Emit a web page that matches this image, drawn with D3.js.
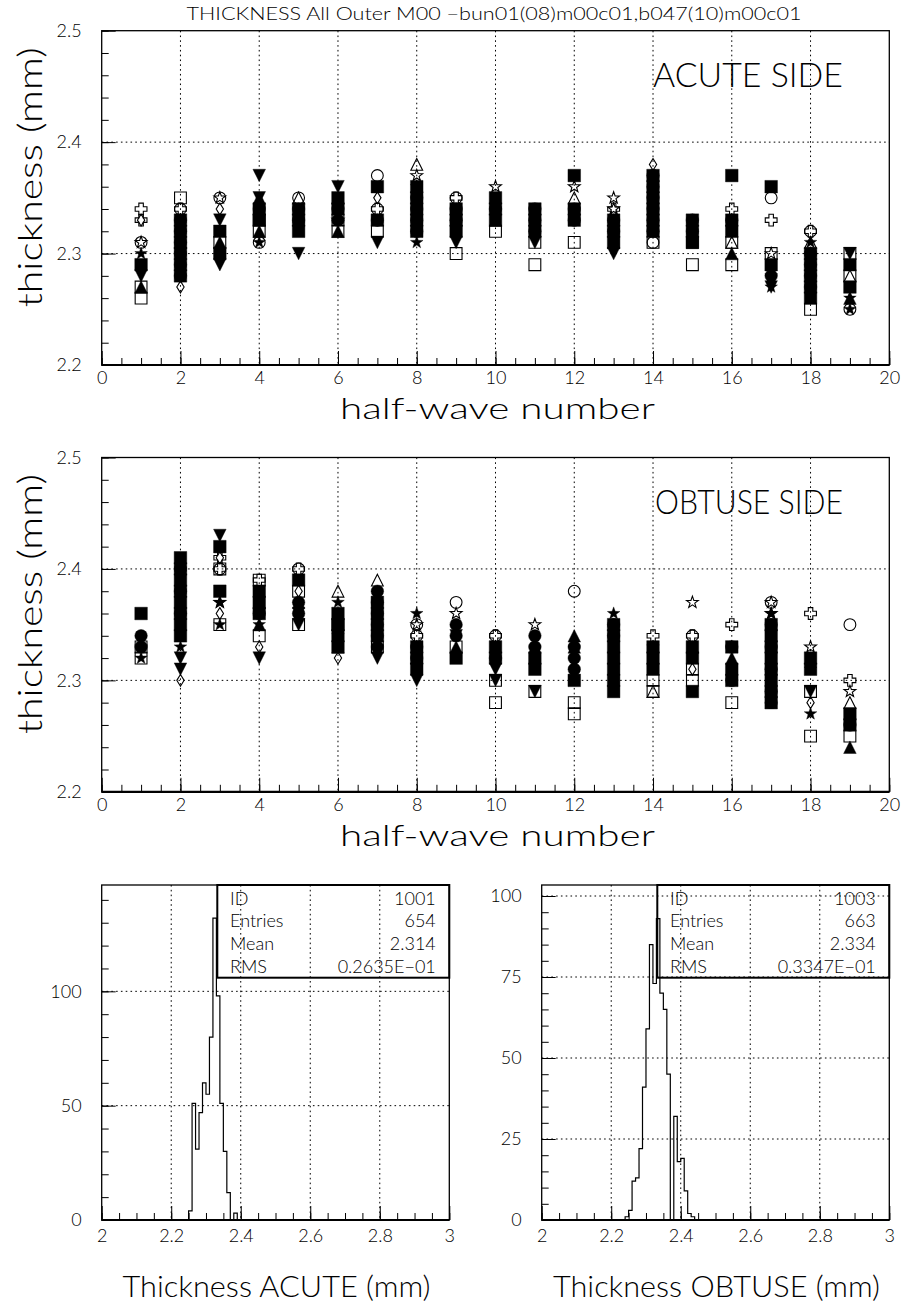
<!DOCTYPE html>
<html><head><meta charset="utf-8">
<script src="https://cdn.jsdelivr.net/npm/d3@7"></script>
<style>
body{margin:0;background:#fff}
text{font-family:Lato,"DejaVu Sans",sans-serif;font-weight:300;fill:#000}
</style>
</head><body>
<svg id="chart" width="905" height="1303" xmlns="http://www.w3.org/2000/svg"></svg>
<script>
// ---------------- DATA ----------------
const pageTitle = "THICKNESS  All Outer M00 \u2212bun01(08)m00c01,b047(10)m00c01";
const halfWaveTicks = [0,2,4,6,8,10,12,14,16,18,20];
const halfWaveGrid = [2,4,6,8,10,12,14,16,18];
const thicknessTicks = [2.2,2.3,2.4,2.5];
const thicknessGrid = [2.3,2.4];
const sideLabels = ["ACUTE SIDE","OBTUSE SIDE"];
const xAxisTitle = "half-wave number";
const yAxisTitle = "thickness (mm)";

// markers: f=filled, o=open; s=square c=circle t=triangle-up v=triangle-down d=diamond x=cross a=star
const acuteByHalfWave = [
 [[2.34,"ox"],[2.33,"ox"],[2.33,"od"],[2.31,"oc"],[2.31,"oa"],[2.30,"fa"],[2.29,"fs"],[2.28,"fv"],[2.27,"ft"],[2.27,"os"],[2.26,"os"]],
 [[2.35,"os"],[2.34,"oc"],[2.34,"ox"],[2.33,"fs"],[2.32,"fs"],[2.31,"fs"],[2.30,"fs"],[2.29,"fs"],[2.28,"fs"],[2.33,"fc"],[2.32,"fc"],[2.31,"fc"],[2.30,"fc"],[2.29,"fc"],[2.28,"fc"],[2.31,"ft"],[2.30,"fv"],[2.27,"od"]],
 [[2.35,"oc"],[2.35,"oa"],[2.34,"od"],[2.33,"fv"],[2.32,"fs"],[2.31,"os"],[2.31,"ft"],[2.30,"fs"],[2.30,"fv"],[2.29,"fv"]],
 [[2.37,"fv"],[2.35,"fv"],[2.35,"ft"],[2.34,"fs"],[2.34,"fc"],[2.33,"fs"],[2.33,"os"],[2.32,"os"],[2.32,"ft"],[2.31,"oc"],[2.31,"fa"]],
 [[2.35,"oc"],[2.35,"ot"],[2.34,"fc"],[2.34,"fs"],[2.33,"fs"],[2.33,"fc"],[2.32,"fs"],[2.30,"fv"]],
 [[2.36,"fv"],[2.35,"ft"],[2.35,"fs"],[2.34,"fs"],[2.34,"fc"],[2.33,"os"],[2.33,"oa"],[2.33,"fc"],[2.32,"os"],[2.32,"ft"]],
 [[2.37,"oc"],[2.36,"fs"],[2.35,"od"],[2.34,"oc"],[2.34,"ox"],[2.33,"fs"],[2.33,"fc"],[2.32,"os"],[2.31,"fv"]],
 [[2.38,"ot"],[2.37,"oa"],[2.36,"fa"],[2.36,"fs"],[2.35,"fs"],[2.34,"fs"],[2.33,"fs"],[2.32,"fs"],[2.35,"fc"],[2.34,"fc"],[2.33,"fc"],[2.32,"fc"],[2.31,"fa"]],
 [[2.35,"oc"],[2.35,"ox"],[2.34,"fs"],[2.33,"fs"],[2.32,"fs"],[2.34,"fc"],[2.33,"fc"],[2.31,"fv"],[2.30,"os"]],
 [[2.36,"oa"],[2.35,"fs"],[2.34,"fs"],[2.34,"fc"],[2.33,"ft"],[2.33,"fs"],[2.32,"os"]],
 [[2.34,"fs"],[2.34,"fc"],[2.33,"fs"],[2.33,"fc"],[2.32,"fs"],[2.32,"fc"],[2.31,"os"],[2.31,"fv"],[2.29,"os"]],
 [[2.37,"fs"],[2.36,"oa"],[2.35,"ot"],[2.34,"fs"],[2.34,"fc"],[2.33,"fs"],[2.33,"fc"],[2.31,"os"]],
 [[2.35,"oa"],[2.34,"oa"],[2.34,"ox"],[2.33,"fs"],[2.33,"fc"],[2.32,"fs"],[2.32,"fc"],[2.31,"ft"],[2.31,"fs"],[2.30,"fv"]],
 [[2.38,"od"],[2.37,"fs"],[2.36,"fs"],[2.35,"fs"],[2.34,"fs"],[2.33,"fs"],[2.32,"fs"],[2.37,"fc"],[2.36,"fc"],[2.35,"fc"],[2.34,"fc"],[2.33,"fc"],[2.32,"fc"],[2.31,"os"],[2.31,"oc"]],
 [[2.33,"fc"],[2.33,"fs"],[2.32,"fs"],[2.32,"fc"],[2.31,"fs"],[2.31,"os"],[2.29,"os"]],
 [[2.37,"fs"],[2.34,"ox"],[2.33,"fs"],[2.33,"fc"],[2.32,"fs"],[2.31,"os"],[2.31,"ot"],[2.30,"ft"],[2.29,"os"]],
 [[2.36,"fs"],[2.35,"oc"],[2.33,"ox"],[2.30,"os"],[2.30,"oa"],[2.29,"fs"],[2.28,"fa"],[2.28,"fc"],[2.27,"fa"],[2.27,"fv"]],
 [[2.32,"oc"],[2.32,"ox"],[2.31,"ot"],[2.31,"fa"],[2.30,"fs"],[2.29,"fs"],[2.28,"fs"],[2.27,"fs"],[2.26,"fs"],[2.30,"fc"],[2.29,"fc"],[2.28,"fc"],[2.27,"fc"],[2.25,"os"]],
 [[2.30,"os"],[2.30,"fv"],[2.29,"fs"],[2.28,"os"],[2.28,"ot"],[2.27,"fs"],[2.26,"ft"],[2.26,"fa"],[2.25,"oc"],[2.25,"fa"]]
];

const obtuseByHalfWave = [
 [[2.36,"fs"],[2.34,"fc"],[2.33,"fc"],[2.33,"fa"],[2.33,"os"],[2.32,"os"],[2.32,"fa"]],
 [[2.41,"fs"],[2.40,"fs"],[2.39,"fs"],[2.38,"fs"],[2.37,"fs"],[2.36,"fs"],[2.35,"fs"],[2.34,"fs"],[2.40,"fc"],[2.38,"fc"],[2.36,"fc"],[2.33,"fa"],[2.32,"fv"],[2.31,"fv"],[2.30,"od"]],
 [[2.43,"fv"],[2.42,"fs"],[2.41,"od"],[2.41,"ox"],[2.40,"os"],[2.40,"ox"],[2.40,"oc"],[2.38,"fs"],[2.37,"fa"],[2.37,"oa"],[2.36,"od"],[2.35,"os"],[2.35,"fa"]],
 [[2.39,"os"],[2.39,"ox"],[2.38,"fs"],[2.37,"ft"],[2.37,"fs"],[2.36,"fs"],[2.36,"fc"],[2.35,"fa"],[2.35,"ft"],[2.34,"os"],[2.33,"od"],[2.32,"fv"]],
 [[2.40,"oc"],[2.40,"ox"],[2.39,"fs"],[2.38,"od"],[2.38,"os"],[2.37,"ft"],[2.37,"fc"],[2.36,"fc"],[2.36,"fv"],[2.35,"os"],[2.35,"fv"]],
 [[2.38,"ot"],[2.37,"fa"],[2.36,"fs"],[2.35,"fs"],[2.35,"os"],[2.34,"fa"],[2.34,"fs"],[2.33,"fs"],[2.33,"ft"],[2.32,"od"]],
 [[2.39,"ot"],[2.38,"fc"],[2.37,"fc"],[2.36,"fc"],[2.35,"fc"],[2.34,"fc"],[2.33,"fc"],[2.37,"fs"],[2.36,"fs"],[2.35,"fs"],[2.34,"fs"],[2.33,"os"],[2.33,"fa"],[2.32,"fv"]],
 [[2.36,"fa"],[2.35,"oc"],[2.35,"oa"],[2.34,"oc"],[2.34,"ox"],[2.33,"fs"],[2.32,"fs"],[2.31,"fs"],[2.33,"fc"],[2.32,"fc"],[2.31,"fv"],[2.30,"fv"]],
 [[2.37,"oc"],[2.36,"oa"],[2.35,"fc"],[2.34,"fc"],[2.34,"fv"],[2.33,"ft"],[2.33,"os"],[2.32,"fs"]],
 [[2.34,"oc"],[2.34,"ox"],[2.33,"fs"],[2.32,"fs"],[2.32,"fc"],[2.31,"fv"],[2.30,"os"],[2.30,"fv"],[2.28,"os"]],
 [[2.35,"oa"],[2.34,"fc"],[2.33,"fc"],[2.33,"ft"],[2.32,"fs"],[2.31,"fs"],[2.29,"os"],[2.29,"fv"]],
 [[2.38,"oc"],[2.34,"ft"],[2.33,"ft"],[2.33,"fc"],[2.32,"fc"],[2.31,"fc"],[2.30,"fs"],[2.28,"os"],[2.27,"os"]],
 [[2.36,"fa"],[2.35,"fs"],[2.34,"fs"],[2.33,"fs"],[2.32,"fs"],[2.31,"fs"],[2.30,"fs"],[2.29,"fs"],[2.35,"fc"],[2.34,"fc"]],
 [[2.34,"ox"],[2.33,"fs"],[2.33,"fa"],[2.32,"fs"],[2.31,"fs"],[2.30,"os"],[2.29,"os"],[2.29,"ot"]],
 [[2.37,"oa"],[2.34,"oc"],[2.34,"ox"],[2.33,"ft"],[2.33,"fs"],[2.32,"fs"],[2.31,"os"],[2.31,"od"],[2.30,"os"],[2.29,"fs"]],
 [[2.35,"ox"],[2.33,"fc"],[2.33,"fs"],[2.32,"ft"],[2.31,"fs"],[2.30,"fs"],[2.30,"oc"],[2.28,"os"]],
 [[2.37,"oc"],[2.37,"oa"],[2.36,"oa"],[2.36,"fa"],[2.35,"fs"],[2.34,"fs"],[2.33,"fs"],[2.32,"fs"],[2.31,"fs"],[2.30,"fs"],[2.29,"fs"],[2.28,"fs"],[2.35,"fc"],[2.33,"fc"],[2.31,"fc"],[2.29,"fc"],[2.28,"oc"]],
 [[2.36,"ox"],[2.33,"oa"],[2.32,"fs"],[2.31,"fs"],[2.31,"fa"],[2.29,"os"],[2.29,"fv"],[2.28,"od"],[2.27,"fa"],[2.25,"os"]],
 [[2.35,"oc"],[2.30,"ox"],[2.29,"oa"],[2.28,"ot"],[2.27,"fs"],[2.26,"fs"],[2.26,"fc"],[2.25,"os"],[2.24,"ft"]]
];

// histograms (bin width 0.01)
const histBinWidth = 0.01;
const acuteHistStart = 2.25;
const acuteHistCounts = [4,51,31,47,60,55,80,132,98,51,30,12,0,3];
const obtuseHistStart = 2.24;
const obtuseHistCounts = [1,3,12,13,22,41,59,85,73,93,70,65,45,0,32,18,19,9,2,1];
const histXTicks = [2,2.2,2.4,2.6,2.8,3];
const histXGrid = [2.2,2.4,2.6,2.8];
const acuteHistYTicks = [0,50,100];
const obtuseHistYTicks = [0,25,50,75,100];
const statLabels = ["ID","Entries","Mean","RMS"];
const acuteStats = ["1001","654","2.314","0.2635E\u221201"];
const obtuseStats = ["1003","663","2.334","0.3347E\u221201"];
const histTitles = ["Thickness ACUTE (mm)","Thickness OBTUSE (mm)"];

// ---------------- DRAWING ----------------
const svg = d3.select("#chart");
const FONT = 18;

svg.append("text").attr("x",494).attr("y",19.5).attr("text-anchor","middle")
  .attr("font-size",17).attr("textLength",615).attr("lengthAdjust","spacingAndGlyphs").text(pageTitle);

function markerPath(code, r){
  const k = code[1];
  if(k==="s") return `M${-r},${-r}H${r}V${r}H${-r}Z`;
  if(k==="c") return d3.arc()({innerRadius:0,outerRadius:r,startAngle:0,endAngle:2*Math.PI});
  if(k==="t") return `M0,${-r}L${r},${r}L${-r},${r}Z`;
  if(k==="v") return `M0,${r}L${r},${-r}L${-r},${-r}Z`;
  if(k==="d") return `M0,${-r}L${r*0.62},0L0,${r}L${-r*0.62},0Z`;
  if(k==="x"){const a=r*0.38;return `M${-a},${-r}H${a}V${-a}H${r}V${a}H${a}V${r}H${-a}V${a}H${-r}V${-a}H${-a}Z`;}
  if(k==="a"){let p="";for(let i=0;i<10;i++){const rr=i%2?r*0.42:r*1.05;const an=-Math.PI/2+i*Math.PI/5;p+=(i?"L":"M")+(rr*Math.cos(an)).toFixed(2)+","+(rr*Math.sin(an)).toFixed(2);}return p+"Z";}
  return "";
}

function dotted(sel){ return sel.attr("stroke","#000").attr("stroke-width",1).attr("stroke-dasharray","1.6,3.2"); }
function styleLabels(a){ a.selectAll("text").attr("font-size",FONT).style("font-family","Lato").style("font-weight",300); }

function scatterPanel(data, top, sideLabel){
  const left=101.7, right=889.3, bottom=top+334.3;
  const x = d3.scaleLinear().domain([0,20]).range([left,right]);
  const y = d3.scaleLinear().domain([2.2,2.5]).range([bottom,top]);
  const g = svg.append("g");
  g.selectAll(null).data(halfWaveGrid).join("line").attr("x1",d=>x(d)).attr("x2",d=>x(d)).attr("y1",top).attr("y2",bottom).call(dotted);
  g.selectAll(null).data(thicknessGrid).join("line").attr("x1",left).attr("x2",right).attr("y1",d=>y(d)).attr("y2",d=>y(d)).call(dotted);
  const xMinor = d3.range(0,20.001,0.5);
  const yMinor = d3.range(2.2,2.5001,0.02);
  g.append("g").attr("transform",`translate(0,${bottom})`).call(d3.axisBottom(x).tickValues(xMinor).tickSize(-7).tickFormat("")).call(a=>a.select(".domain").remove());
  g.append("g").attr("transform",`translate(0,${bottom})`).call(d3.axisBottom(x).tickValues(halfWaveTicks).tickSize(-14).tickPadding(6).tickFormat(d3.format("d")))
    .call(a=>a.select(".domain").remove()).call(styleLabels);
  g.append("g").attr("transform",`translate(${left},0)`).call(d3.axisLeft(y).tickValues(yMinor).tickSize(-7).tickFormat("")).call(a=>a.select(".domain").remove());
  g.append("g").attr("transform",`translate(${left},0)`).call(d3.axisLeft(y).tickValues(thicknessTicks).tickSize(-14).tickPadding(20).tickFormat(d3.format(".1f")))
    .call(a=>a.select(".domain").remove()).call(styleLabels);
  g.selectAll(".tick line").attr("stroke","#000").attr("stroke-width",1);
  g.append("rect").attr("x",left).attr("y",top).attr("width",right-left).attr("height",bottom-top).attr("fill","none").attr("stroke","#000").attr("stroke-width",1.3);
  g.append("line").attr("x1",left).attr("x2",right).attr("y1",bottom).attr("y2",bottom).attr("stroke","#000").attr("stroke-width",2.2);
  const pts = [];
  data.forEach((list,i)=>list.forEach(([v,m])=>pts.push({hw:i+1,v,m})));
  const filled = pts.filter(p=>p.m[0]==="f"), open = pts.filter(p=>p.m[0]==="o");
  g.selectAll(null).data(filled).join("path").attr("transform",d=>`translate(${x(d.hw)},${y(d.v)})`)
    .attr("d",d=>markerPath(d.m,6.3)).attr("fill","#000").attr("stroke","#000").attr("stroke-width",0.4);
  g.selectAll(null).data(open).join("path").attr("transform",d=>`translate(${x(d.hw)},${y(d.v)})`)
    .attr("d",d=>markerPath(d.m,5.9)).attr("fill","none").attr("stroke","#000").attr("stroke-width",1.1);
  g.append("text").attr("x",843).attr("y",top+56.5).attr("text-anchor","end").attr("font-size",33)
    .attr("textLength",sideLabel.length>10?188:190).attr("lengthAdjust","spacingAndGlyphs").text(sideLabel);
  g.append("text").attr("x",497.5).attr("y",bottom+54).attr("text-anchor","middle").attr("font-size",30)
    .attr("textLength",315).attr("lengthAdjust","spacingAndGlyphs").text(xAxisTitle);
  g.append("text").attr("transform",`translate(42,${top+146.5}) rotate(-90)`).attr("text-anchor","middle").attr("font-size",33)
    .attr("textLength",260).attr("lengthAdjust","spacingAndGlyphs").text(yAxisTitle);
}

scatterPanel(acuteByHalfWave, 30.7, sideLabels[0]);
scatterPanel(obtuseByHalfWave, 457.5, sideLabels[1]);

function histPanel(left, start, counts, ymax, yTicks, yMinorStep, stats, title, titleLen){
  const right=left+347.6, top=885, bottom=1220;
  const x = d3.scaleLinear().domain([2,3]).range([left,right]);
  const y = d3.scaleLinear().domain([0,ymax]).range([bottom,top]);
  const g = svg.append("g");
  g.selectAll(null).data(histXGrid).join("line").attr("x1",d=>x(d)).attr("x2",d=>x(d)).attr("y1",top).attr("y2",bottom).call(dotted);
  g.selectAll(null).data(yTicks.filter(d=>d>0)).join("line").attr("x1",left).attr("x2",right).attr("y1",d=>y(d)).attr("y2",d=>y(d)).call(dotted);
  const xMinor = d3.range(2,3.0001,0.05);
  const yMinor = d3.range(0,ymax,yMinorStep);
  g.append("g").attr("transform",`translate(0,${bottom})`).call(d3.axisBottom(x).tickValues(xMinor).tickSize(-7).tickFormat("")).call(a=>a.select(".domain").remove());
  g.append("g").attr("transform",`translate(0,${bottom})`).call(d3.axisBottom(x).tickValues(histXTicks).tickSize(-14).tickPadding(9).tickFormat(d3.format("~g")))
    .call(a=>a.select(".domain").remove()).call(styleLabels);
  g.append("g").attr("transform",`translate(${left},0)`).call(d3.axisLeft(y).tickValues(yMinor).tickSize(-7).tickFormat("")).call(a=>a.select(".domain").remove());
  g.append("g").attr("transform",`translate(${left},0)`).call(d3.axisLeft(y).tickValues(yTicks).tickSize(-14).tickPadding(20).tickFormat(d3.format("d")))
    .call(a=>a.select(".domain").remove()).call(styleLabels);
  g.selectAll(".tick line").attr("stroke","#000").attr("stroke-width",1);
  const pts = [[start,0]];
  counts.forEach((c,i)=>pts.push([start+i*histBinWidth,c]));
  pts.push([start+counts.length*histBinWidth,0]);
  g.append("path").attr("d",d3.line().x(d=>x(d[0])).y(d=>y(d[1])).curve(d3.curveStepAfter)(pts))
    .attr("fill","none").attr("stroke","#000").attr("stroke-width",1.2);
  g.append("rect").attr("x",left).attr("y",top).attr("width",right-left).attr("height",bottom-top).attr("fill","none").attr("stroke","#000").attr("stroke-width",1.3);
  g.append("line").attr("x1",left).attr("x2",right).attr("y1",bottom).attr("y2",bottom).attr("stroke","#000").attr("stroke-width",2.2);
  const bx = left+115.6;
  g.append("rect").attr("x",bx).attr("y",top).attr("width",right-bx).attr("height",92.7).attr("fill","none").attr("stroke","#000").attr("stroke-width",2);
  statLabels.forEach((s,i)=>{
    g.append("text").attr("x",bx+12.7).attr("y",top+19.5+i*22.8).attr("font-size",FONT).text(s);
    g.append("text").attr("x",right-13.5).attr("y",top+19.5+i*22.8).attr("font-size",FONT).attr("text-anchor","end").text(stats[i]);
  });
  g.append("text").attr("x",(left+right)/2+1).attr("y",1297).attr("text-anchor","middle").attr("font-size",30)
    .attr("textLength",titleLen).attr("lengthAdjust","spacingAndGlyphs").text(title);
}

histPanel(101.7, acuteHistStart, acuteHistCounts, 146.5, acuteHistYTicks, 10, acuteStats, histTitles[0], 308);
histPanel(541.7, obtuseHistStart, obtuseHistCounts, 103.4, obtuseHistYTicks, 5, obtuseStats, histTitles[1], 327);
</script>
</body></html>
